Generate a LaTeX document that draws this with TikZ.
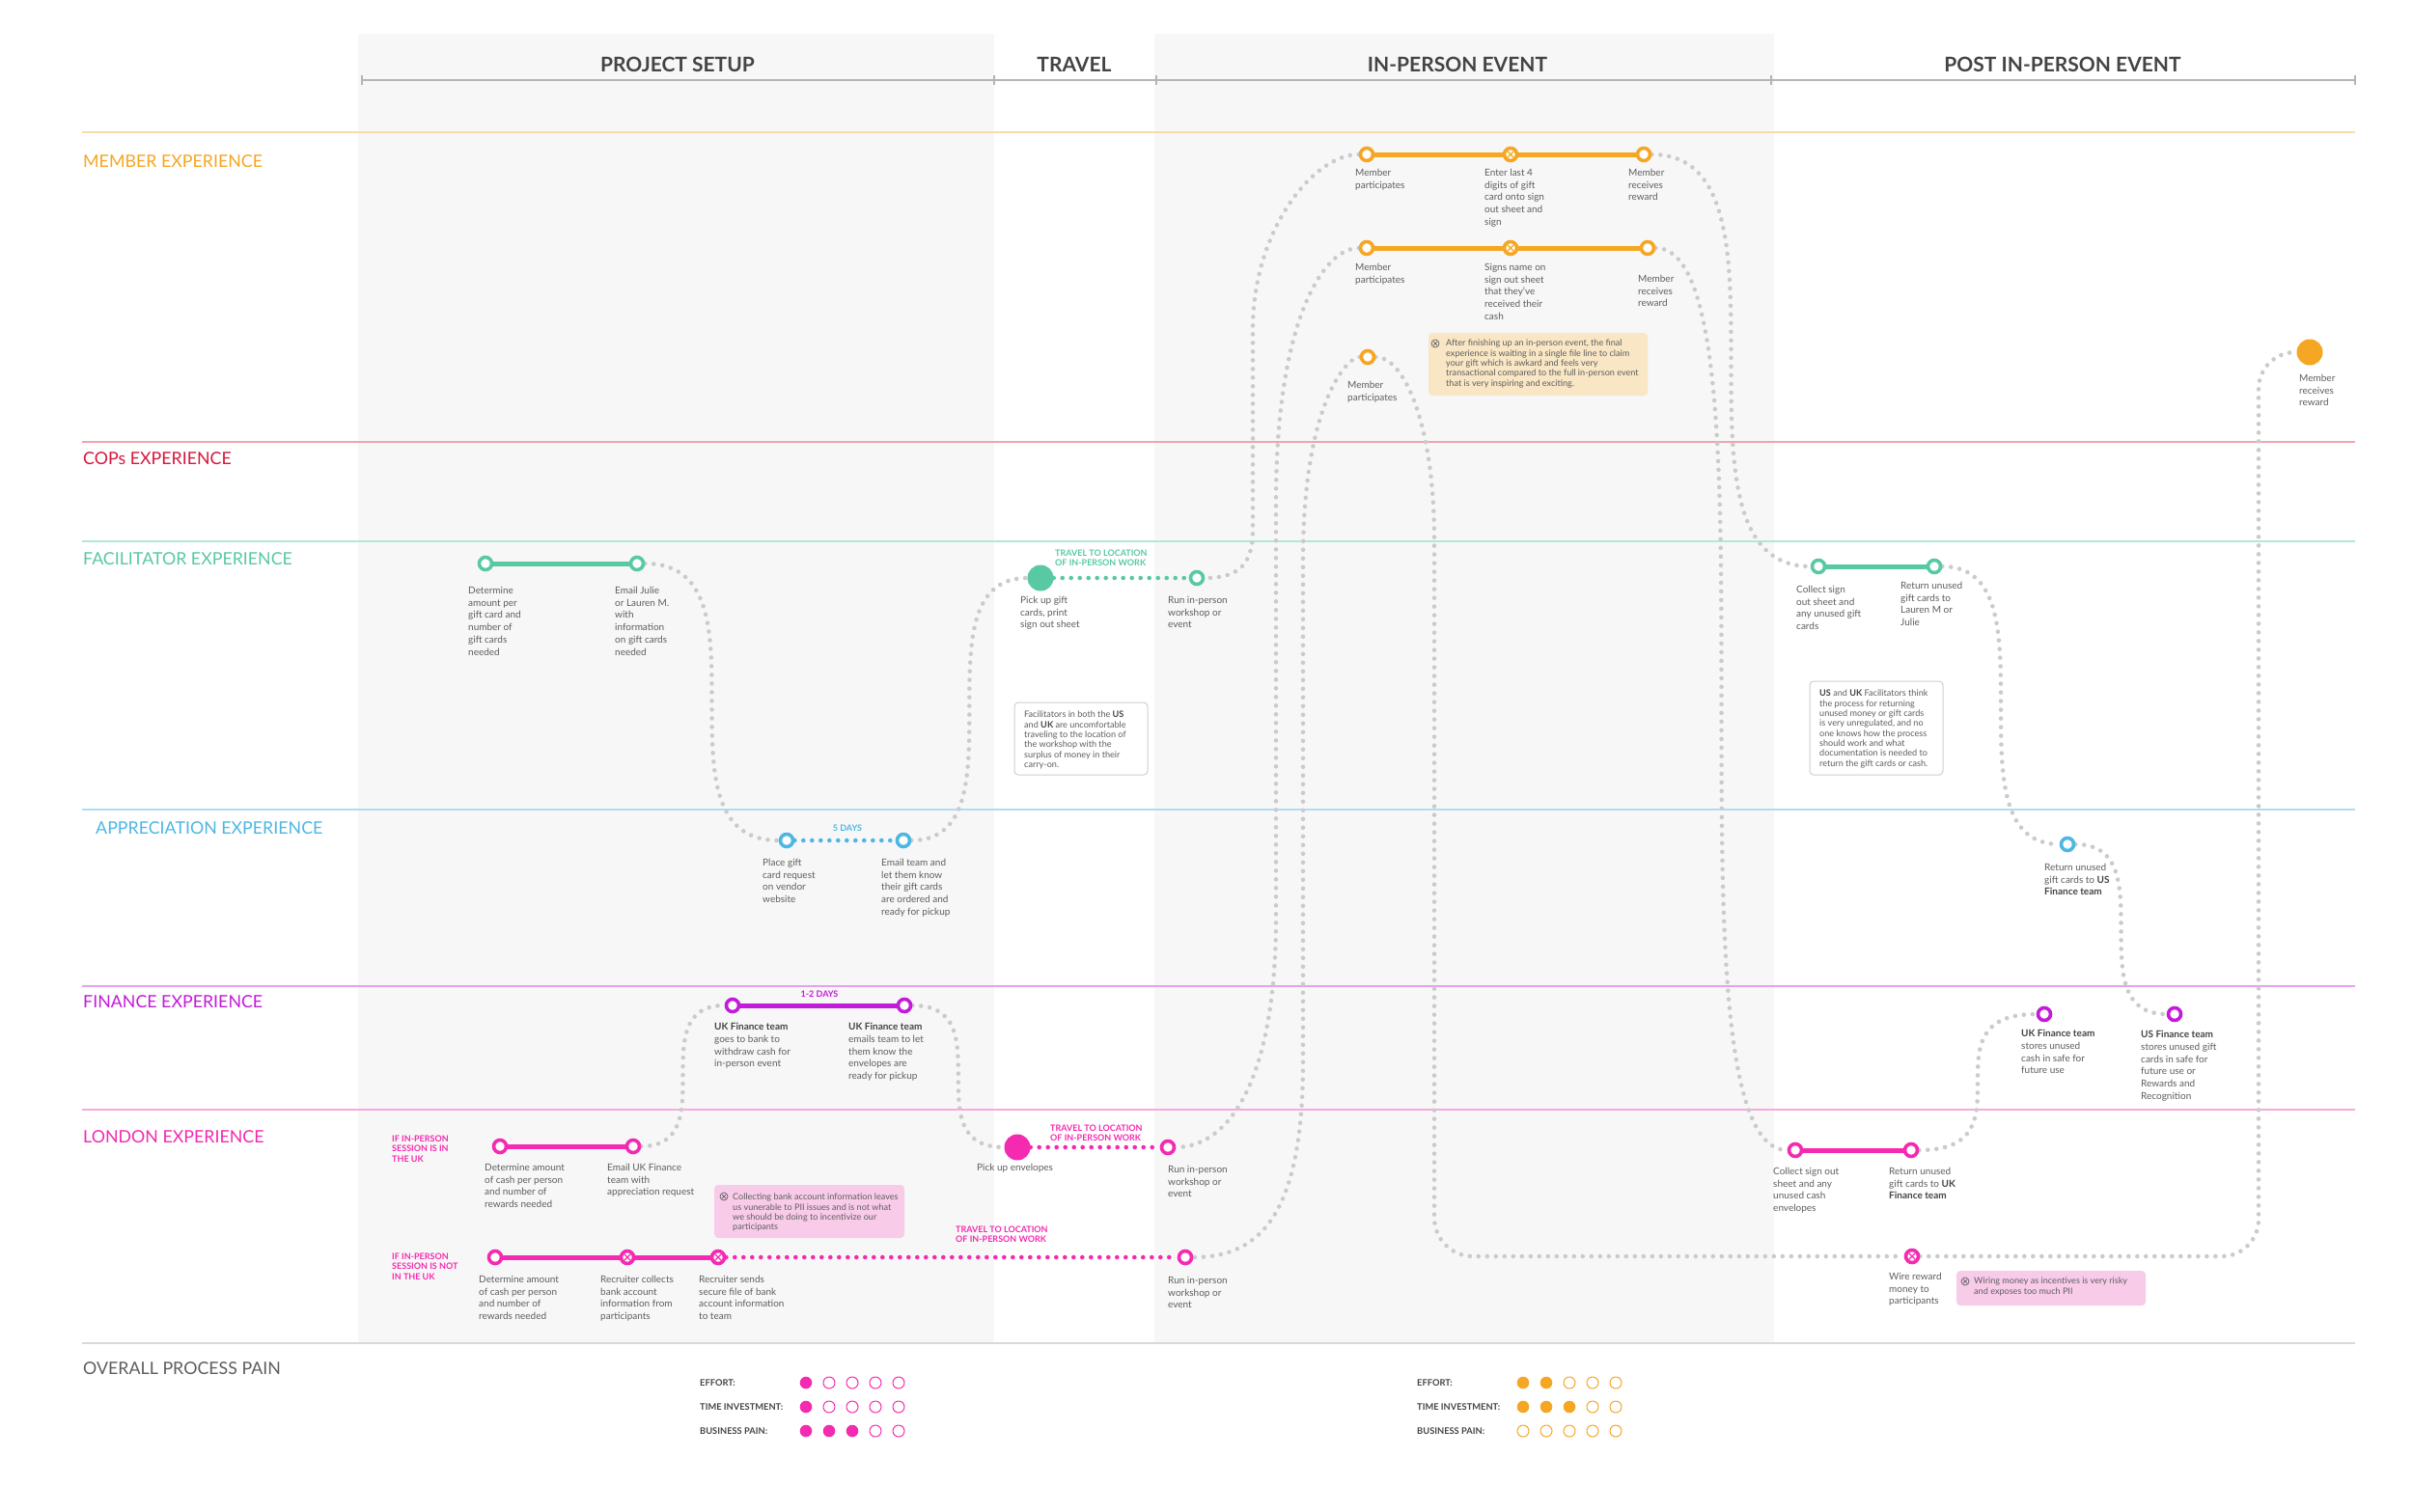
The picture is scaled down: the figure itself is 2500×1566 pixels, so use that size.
\documentclass[tikz,border=0pt]{standalone}
\usepackage{fontspec}
\setmainfont{Lato}
\pgfdeclarelayer{back}
\pgfdeclarelayer{mid}
\pgfsetlayers{back,mid,main}
\definecolor{cOr}{HTML}{F5A623}
\definecolor{cOrL}{HTML}{F9DCA6}
\definecolor{cCop}{HTML}{D5173E}
\definecolor{cCopL}{HTML}{F1A4B0}
\definecolor{cTe}{HTML}{58C9A2}
\definecolor{cTeL}{HTML}{B0E8D6}
\definecolor{cBl}{HTML}{4DB7E3}
\definecolor{cBlL}{HTML}{AEDDF2}
\definecolor{cPu}{HTML}{C31BDA}
\definecolor{cPuL}{HTML}{E6A2F0}
\definecolor{cPk}{HTML}{F42AB1}
\definecolor{cPkL}{HTML}{F7A9DC}
\definecolor{cDot}{HTML}{CBCBCB}
\definecolor{cTxt}{HTML}{5E5E5E}
\definecolor{cDark}{HTML}{444444}
\definecolor{cHead}{HTML}{B5B5B5}
\definecolor{cPanel}{HTML}{F7F7F7}
\definecolor{cNoteO}{HTML}{F8E6C5}
\definecolor{cNoteP}{HTML}{F8CBE9}
\definecolor{cBox}{HTML}{CFCFCF}
\newcommand\bdk[1]{\textbf{\textcolor{cDark}{#1}}}
\newcommand\painrow[4]{\foreach \i in {1,...,5}{\ifnum\i>#3\relax \draw[#4, line width=1pt, fill=white] ({#1+24*(\i-1)},#2) circle[radius=6pt]; \else \fill[#4] ({#1+24*(\i-1)},#2) circle[radius=6.3pt]; \fi}}
\newcommand\sconn[2]{\draw[gdot] (#1) .. controls (#2 |- #1) and (#1 |- #2) .. (#2);}
\tikzset{
  hol/.style={circle, draw=#1, fill=white, line width=3.6pt, minimum size=13pt, inner sep=0pt},
  xn/.style={hol=#1, path picture={\draw[#1, line width=1.2pt] ([xshift=-3.3pt,yshift=-3.3pt]path picture bounding box.center) -- ([xshift=3.3pt,yshift=3.3pt]path picture bounding box.center) ([xshift=-3.3pt,yshift=3.3pt]path picture bounding box.center) -- ([xshift=3.3pt,yshift=-3.3pt]path picture bounding box.center);}},
  big/.style={circle, fill=#1, minimum size=27pt, inner sep=0pt},
  lbl/.style={anchor=north west, align=left, inner sep=0pt, text=cTxt, font=\fontsize{10}{12.7}\selectfont},
  tag/.style={anchor=north west, align=left, inner sep=0pt, text=#1, font=\fontsize{9}{10.2}\selectfont\bfseries},
  ctag/.style={anchor=center, inner sep=0pt, text=#1, font=\fontsize{9}{10.2}\selectfont\bfseries},
  note/.style={anchor=north west, align=left, inner sep=0pt, text=cTxt, font=\fontsize{9.1}{10.3}\selectfont},
  lane/.style={anchor=west, inner sep=0pt, text=#1, font=\fontsize{17.8}{20}\selectfont},
  head/.style={anchor=center, inner sep=0pt, text=cDark, font=\fontsize{21}{24}\selectfont\bfseries},
  pain/.style={anchor=west, inner sep=0pt, text=cDark, font=\fontsize{9.3}{11}\selectfont\bfseries},
  sline/.style={draw=#1, line width=5pt},
  cdot/.style={draw=#1, line width=4.6pt, line cap=round, dash pattern=on 0pt off 9pt},
  gdot/.style={draw=cDot, line width=4.6pt, line cap=round, dash pattern=on 0pt off 9pt},
  xic/.pic={\draw[cTxt, line width=0.7pt] (0,0) circle[radius=4pt]; \draw[cTxt, line width=0.7pt] (-2.2pt,-2.2pt) -- (2.2pt,2.2pt) (-2.2pt,2.2pt) -- (2.2pt,-2.2pt);}
}
\begin{document}
\begin{tikzpicture}[x=1pt,y=-1pt]
\useasboundingbox (0,0) rectangle (2500,1566);
\begin{pgfonlayer}{back}
\fill[white] (0,0) rectangle (2500,1566);
\fill[cPanel] (371,35) rectangle (1030,1392);
\fill[cPanel] (1196,35) rectangle (1838,1392);
% header
\draw[cHead, line width=1.2pt] (375,83) -- (2440,83);
\foreach \tx in {375,1030,1198,1835,2440} \draw[cHead, line width=1.2pt] (\tx,78) -- (\tx,88);
% lane lines
\draw[cOrL, line width=1.2pt] (85,137) -- (2440,137);
\draw[cCopL, line width=1.2pt] (85,458) -- (2440,458);
\draw[cTeL, line width=1.2pt] (85,561) -- (2440,561);
\draw[cBlL, line width=1.2pt] (85,839) -- (2440,839);
\draw[cPuL, line width=1.2pt] (85,1022) -- (2440,1022);
\draw[cPkL, line width=1.2pt] (85,1150) -- (2440,1150);
\draw[black!15, line width=1.2pt] (85,1392) -- (2440,1392);
\end{pgfonlayer}

% headers
\node[head] (hPS) at (702,67) {PROJECT SETUP};
\node[head] (hTR) at (1113,67) {TRAVEL};
\node[head] (hIP) at (1510,67) {IN-PERSON EVENT};
\node[head] (hPO) at (2137,67) {POST IN-PERSON EVENT};

% lane labels
\node[lane=cOr] (Lm) at (86,167) {MEMBER EXPERIENCE};
\node[lane=cCop] (Lc) at (86,475) {COPs EXPERIENCE};
\node[lane=cTe] (Lf) at (86,579) {FACILITATOR EXPERIENCE};
\node[lane=cBl] (La) at (99,858) {APPRECIATION EXPERIENCE};
\node[lane=cPu] (Lfi) at (86,1038) {FINANCE EXPERIENCE};
\node[lane=cPk] (Ll) at (86,1178) {LONDON EXPERIENCE};
\node[lane=cTxt] (Lo) at (86,1418) {OVERALL PROCESS PAIN};

% ---------- member ----------
\node[hol=cOr] (m1a) at (1416,160) {};
\node[xn=cOr] (m1b) at (1565,160) {};
\node[hol=cOr] (m1c) at (1703,160) {};
\node[lbl] (tm1a) at (1404,175) {Member\\participates};
\node[lbl] (tm1b) at (1538,175) {Enter last 4\\digits of gift\\card onto sign\\out sheet and\\sign};
\node[lbl] (tm1c) at (1687,175) {Member\\receives\\reward};
\node[hol=cOr] (m2a) at (1416,257) {};
\node[xn=cOr] (m2b) at (1565,257) {};
\node[hol=cOr] (m2c) at (1707,257) {};
\node[lbl] (tm2a) at (1404,273) {Member\\participates};
\node[lbl] (tm2b) at (1538,273) {Signs name on\\sign out sheet\\that they've\\received their\\cash};
\node[lbl] (tm2c) at (1697,285) {Member\\receives\\reward};
\node[hol=cOr] (m3) at (1417,370) {};
\node[lbl] (tm3) at (1396,395) {Member\\participates};
\node[big=cOr] (mR) at (2393,365) {};
\node[lbl] (tmR) at (2382,388) {Member\\receives\\reward};
\fill[cNoteO, rounded corners=4pt] (1480,345) rectangle (1707,410);
\pic at (1487,356) {xic};
\node[note] (nOr) at (1498,352) {After finishing up an in-person event, the final\\experience is waiting in a single file line to claim\\your gift which is awkard and feels very\\transactional compared to the full in-person event\\that is very inspiring and exciting.};

% ---------- facilitator ----------
\node[hol=cTe] (f1) at (503,584) {};
\node[hol=cTe] (f2) at (660,584) {};
\node[lbl] (tf1) at (485,608) {Determine\\amount per\\gift card and\\number of\\gift cards\\needed};
\node[lbl] (tf2) at (637,608) {Email Julie\\or Lauren M.\\with\\information\\on gift cards\\needed};
\node[big=cTe] (fP) at (1078,599) {};
\node[lbl] (tfP) at (1057,618) {Pick up gift\\cards, print\\sign out sheet};
\node[tag=cTe] (tgf) at (1093,570) {TRAVEL TO LOCATION\\OF IN-PERSON WORK};
\node[hol=cTe] (fR) at (1240,599) {};
\node[lbl] (tfR) at (1210,618) {Run in-person\\workshop or\\event};
\draw[cBox, fill=white, rounded corners=4pt, line width=1pt] (1051,728) rectangle (1189,803);
\node[note] (nF1) at (1061,737) {Facilitators in both the \bdk{US}\\and \bdk{UK} are uncomfortable\\traveling to the location of\\the workshop with the\\surplus of money in their\\carry-on.};
\node[hol=cTe] (f3) at (1884,587) {};
\node[hol=cTe] (f4) at (2004,587) {};
\node[lbl] (tf3) at (1861,607) {Collect sign\\out sheet and\\any unused gift\\cards};
\node[lbl] (tf4) at (1969,603) {Return unused\\gift cards to\\Lauren M or\\Julie};
\draw[cBox, fill=white, rounded corners=4pt, line width=1pt] (1875,706) rectangle (2013,803);
\node[note] (nF2) at (1885,715) {\bdk{US} and \bdk{UK} Facilitators think\\the process for returning\\unused money or gift cards\\is very unregulated, and no\\one knows how the process\\should work and what\\documentation is needed to\\return the gift cards or cash.};

% ---------- appreciation ----------
\node[hol=cBl] (a1) at (815,871) {};
\node[hol=cBl] (a2) at (936,871) {};
\node[ctag=cBl] (tga) at (878,858) {5 DAYS};
\node[lbl] (ta1) at (790,890) {Place gift\\card request\\on vendor\\website};
\node[lbl] (ta2) at (913,890) {Email team and\\let them know\\their gift cards\\are ordered and\\ready for pickup};
\node[hol=cBl] (a3) at (2142,875) {};
\node[lbl] (ta3) at (2118,895) {Return unused\\gift cards to \bdk{US}\\\bdk{Finance team}};

% ---------- finance ----------
\node[hol=cPu] (n1) at (759,1042) {};
\node[hol=cPu] (n2) at (937,1042) {};
\node[ctag=cPu] (tgn) at (849,1030) {1-2 DAYS};
\node[lbl] (tn1) at (740,1060) {\bdk{UK Finance team}\\goes to bank to\\withdraw cash for\\in-person event};
\node[lbl] (tn2) at (879,1060) {\bdk{UK Finance team}\\emails team to let\\them know the\\envelopes are\\ready for pickup};
\node[hol=cPu] (n3) at (2118,1051) {};
\node[hol=cPu] (n4) at (2253,1051) {};
\node[lbl] (tn3) at (2094,1067) {\bdk{UK Finance team}\\stores unused\\cash in safe for\\future use};
\node[lbl] (tn4) at (2218,1068) {\bdk{US Finance team}\\stores unused gift\\cards in safe for\\future use or\\Rewards and\\Recognition};

% ---------- london ----------
\node[tag=cPk] (tgl1) at (406,1177) {IF IN-PERSON\\SESSION IS IN\\THE UK};
\node[hol=cPk] (l1) at (518,1188) {};
\node[hol=cPk] (l2) at (656,1188) {};
\node[lbl] (tl1) at (502,1206) {Determine amount\\of cash per person\\and number of\\rewards needed};
\node[lbl] (tl2) at (629,1206) {Email UK Finance\\team with\\appreciation request};
\fill[cNoteP, rounded corners=4pt] (740,1228) rectangle (937,1283);
\pic at (750,1240) {xic};
\node[note] (nP1) at (759,1237) {Collecting bank account information leaves\\us vunerable to PII issues and is not what\\we should be doing to incentivize our\\participants};
\node[big=cPk] (lP) at (1054,1189) {};
\node[lbl] (tlP) at (1012,1206) {Pick up envelopes};
\node[tag=cPk] (tgl2) at (1088,1166) {TRAVEL TO LOCATION\\OF IN-PERSON WORK};
\node[hol=cPk] (lR) at (1210,1189) {};
\node[lbl] (tlR) at (1210,1208) {Run in-person\\workshop or\\event};
\node[tag=cPk] (tgl3) at (406,1299) {IF IN-PERSON\\SESSION IS NOT\\IN THE UK};
\node[hol=cPk] (k1) at (513,1303) {};
\node[xn=cPk] (k2) at (650,1303) {};
\node[xn=cPk] (k3) at (744,1303) {};
\node[lbl] (tk1) at (496,1322) {Determine amount\\of cash per person\\and number of\\rewards needed};
\node[lbl] (tk2) at (622,1322) {Recruiter collects\\bank account\\information from\\participants};
\node[lbl] (tk3) at (724,1322) {Recruiter sends\\secure file of bank\\account information\\to team};
\node[tag=cPk] (tgl4) at (990,1271) {TRAVEL TO LOCATION\\OF IN-PERSON WORK};
\node[hol=cPk] (kR) at (1228,1303) {};
\node[lbl] (tkR) at (1210,1323) {Run in-person\\workshop or\\event};
\node[hol=cPk] (l3) at (1860,1192) {};
\node[hol=cPk] (l4) at (1980,1192) {};
\node[lbl] (tl3) at (1837,1210) {Collect sign out\\sheet and any\\unused cash\\envelopes};
\node[lbl] (tl4) at (1957,1210) {Return unused\\gift cards to \bdk{UK}\\\bdk{Finance team}};
\node[xn=cPk] (w) at (1981,1302) {};
\node[lbl] (tw) at (1957,1319) {Wire reward\\money to\\participants};
\fill[cNoteP, rounded corners=4pt] (2027,1317) rectangle (2223,1353);
\pic at (2036,1328) {xic};
\node[note] (nP2) at (2045,1324) {Wiring money as incentives is very risky\\and exposes too much PII};

% ---------- connectors ----------
\begin{pgfonlayer}{mid}
\draw[sline=cOr] (m1a) -- (m1b) -- (m1c);
\draw[sline=cOr] (m2a) -- (m2b) -- (m2c);
\draw[sline=cTe] (f1) -- (f2);
\draw[sline=cTe] (f3) -- (f4);
\draw[sline=cPu] (n1) -- (n2);
\draw[sline=cPk] (l1) -- (l2);
\draw[sline=cPk] (k1) -- (k2) -- (k3);
\draw[sline=cPk] (l3) -- (l4);
\draw[cdot=cTe] (fP) -- (fR);
\draw[cdot=cBl] (a1) -- (a2);
\draw[cdot=cPk] (lP) -- (lR);
\draw[cdot=cPk] (k3) -- (kR);
\sconn{f2.east}{a1.west}
\sconn{a2.east}{fP.west}
\sconn{l2.east}{n1.west}
\sconn{n2.east}{lP.west}
\sconn{m1c.east}{f3.west}
\sconn{m2c.east}{l3.west}
\sconn{f4.east}{a3.west}
\sconn{a3.east}{n4.west}
\sconn{l4.east}{n3.west}
% in-person column
\draw[gdot] (m1a.west) .. controls (1360,160) and (1298,240) .. (1298,340) -- (1298,550) .. controls (1298,585) and (1283,599) .. (fR.east);
\draw[gdot] (m2a.west) .. controls (1372,257) and (1322,330) .. (1322,520) -- (1322,950) .. controls (1322,1130) and (1268,1189) .. (lR.east);
\draw[gdot] (m3.west) .. controls (1395,370) and (1350,420) .. (1350,580) -- (1350,1100) .. controls (1350,1260) and (1305,1303) .. (kR.east);
\draw[gdot, rounded corners=40pt] (m3.east) .. controls (1455,370) and (1486,440) .. (1486,600) -- (1486,1302) -- (w.west);
\draw[gdot, rounded corners=38pt] (w.east) -- (2340,1302) -- (2340,365) -- (mR.west);
\end{pgfonlayer}

% ---------- pain ----------
\node[pain] (pe1) at (725,1433) {EFFORT:};
\node[pain] (pt1) at (725,1458) {TIME INVESTMENT:};
\node[pain] (pb1) at (725,1483) {BUSINESS PAIN:};
\painrow{835}{1433}{1}{cPk}
\painrow{835}{1458}{1}{cPk}
\painrow{835}{1483}{3}{cPk}
\node[pain] (pe2) at (1468,1433) {EFFORT:};
\node[pain] (pt2) at (1468,1458) {TIME INVESTMENT:};
\node[pain] (pb2) at (1468,1483) {BUSINESS PAIN:};
\painrow{1578}{1433}{2}{cOr}
\painrow{1578}{1458}{3}{cOr}
\painrow{1578}{1483}{0}{cOr}
\end{tikzpicture}
\end{document}
